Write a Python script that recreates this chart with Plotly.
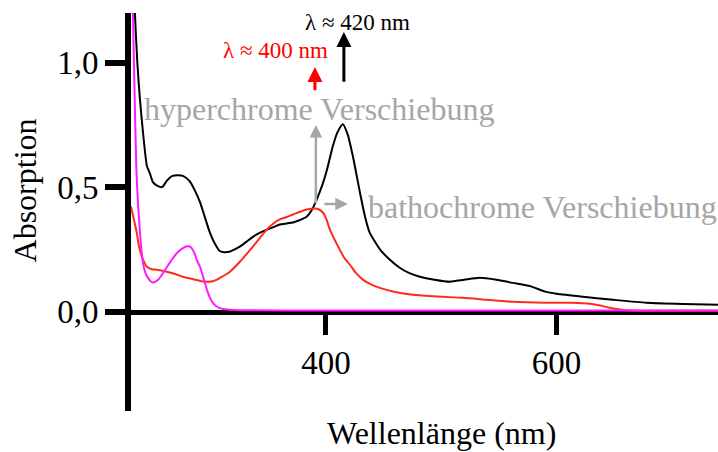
import plotly.graph_objects as go

# Wavelength (nm) and absorption values
black_x = [231, 232.5, 234.4, 236.5, 238.8, 241.4, 244.8, 247.4, 250, 254, 258, 262, 267, 272, 276, 282, 286, 291, 295,
           299.4, 304, 308, 312, 317, 321, 325.4, 331, 337, 343, 349, 355, 360, 366, 371.4, 377, 383.5, 388, 392, 397,
           401, 406, 410, 414.7, 419, 423.4, 429.5, 434, 438, 447, 455, 464, 472, 481.5, 494, 507.5, 520, 533.5, 548,
           562, 577, 590, 600, 625, 649, 678, 710, 740]
black_y = [1.8, 1.5, 1.2, 1.0, 0.85, 0.72, 0.585, 0.555, 0.52, 0.505, 0.5, 0.525, 0.545, 0.548, 0.545, 0.523, 0.49, 0.438,
           0.38, 0.317, 0.27, 0.243, 0.238, 0.241, 0.25, 0.261, 0.28, 0.301, 0.317, 0.329, 0.34, 0.35, 0.354, 0.358,
           0.367, 0.382, 0.41, 0.45, 0.51, 0.571, 0.664, 0.72, 0.753, 0.71, 0.624, 0.479, 0.38, 0.317, 0.249, 0.21,
           0.176, 0.155, 0.14, 0.128, 0.12, 0.128, 0.136, 0.128, 0.115, 0.102, 0.08, 0.071, 0.058, 0.047, 0.035, 0.03,
           0.027]

red_x = [231, 233.5, 236, 238, 240.5, 244.8, 249, 253.5, 262, 270, 276, 285, 292, 297, 302, 305.5, 310, 316.8, 325.4,
         331, 336.7, 343, 348.9, 354, 360, 366, 371.4, 377, 383.5, 390.5, 394, 397.4, 400.5, 403.5, 408, 412, 416,
         420.8, 426, 432, 440, 446.8, 460, 475.5, 497, 518.8, 540, 562, 590, 614, 629, 638, 646, 655, 663.5, 700, 740]
red_y = [0.422, 0.37, 0.317, 0.26, 0.22, 0.18, 0.17, 0.168, 0.16, 0.15, 0.14, 0.13, 0.122, 0.12, 0.122, 0.128, 0.14,
         0.16, 0.2, 0.23, 0.261, 0.297, 0.33, 0.352, 0.37, 0.38, 0.39, 0.4, 0.41, 0.414, 0.41, 0.398, 0.37, 0.329,
         0.285, 0.249, 0.215, 0.188, 0.155, 0.128, 0.107, 0.095, 0.078, 0.067, 0.06, 0.055, 0.047, 0.039, 0.035,
         0.035, 0.031, 0.024, 0.015, 0.008, 0.004, 0.003, 0.003]

magenta_x = [231, 232.7, 234, 235.6, 237, 238.8, 240, 241.4, 243.5, 245.7, 248, 250, 251.8, 255, 258.8, 263, 267.4,
             272, 276, 280, 282.5, 286, 288, 290.8, 293.5, 296.8, 299.5, 302, 306, 310.7, 320, 400, 740]
magenta_y = [1.8, 1.2, 0.9, 0.58, 0.44, 0.317, 0.25, 0.195, 0.155, 0.135, 0.122, 0.117, 0.119, 0.13, 0.155, 0.185,
             0.215, 0.24, 0.255, 0.262, 0.26, 0.235, 0.208, 0.18, 0.14, 0.088, 0.055, 0.035, 0.018, 0.01, 0.006,
             0.004, 0.004]

x_ticks = [400, 600]
y_ticks = [0.0, 0.5, 1.0]
y_tick_text = ["0,0", "0,5", "1,0"]

FONT = "Liberation Serif"

fig = go.Figure()
fig.add_trace(go.Scatter(x=black_x, y=black_y, mode="lines",
                         line=dict(color="#000000", width=2, shape="spline", smoothing=0.6)))
fig.add_trace(go.Scatter(x=red_x, y=red_y, mode="lines",
                         line=dict(color="#ff2a1a", width=2, shape="spline", smoothing=0.6)))
fig.add_trace(go.Scatter(x=magenta_x, y=magenta_y, mode="lines",
                         line=dict(color="#ff1aff", width=2, shape="spline", smoothing=0.6)))

fig.update_layout(
    width=718, height=452,
    margin=dict(l=131, r=0, t=13, b=41),
    paper_bgcolor="white", plot_bgcolor="white",
    showlegend=False,
    font=dict(family=FONT, color="black", size=33),
    xaxis=dict(range=[231, 740], tickvals=x_ticks, ticktext=[str(v) for v in x_ticks],
               showgrid=False, zeroline=False, showline=True, linecolor="black", linewidth=5,
               ticks="outside", ticklen=20, tickwidth=5, tickcolor="black",
               anchor="free", position=0.25, layer="below traces",
               tickfont=dict(family=FONT, size=33)),
    yaxis=dict(range=[-0.4, 1.2], tickvals=y_ticks, ticktext=y_tick_text,
               showgrid=False, zeroline=False, showline=True, linecolor="black", linewidth=6,
               ticks="outside", ticklen=20, tickwidth=6, tickcolor="black", layer="below traces",
               tickfont=dict(family=FONT, size=33)),
)

annotations = [
    dict(text="Wellenlänge (nm)", xref="x", yref="paper", x=500, y=-0.055, showarrow=False,
         xanchor="center", yanchor="middle", font=dict(family=FONT, size=32, color="black")),
    dict(text="Absorption", xref="paper", yref="paper", x=-0.18, y=0.555, showarrow=False, textangle=-90,
         xanchor="center", yanchor="middle", font=dict(family=FONT, size=32, color="black")),
    dict(text="hyperchrome Verschiebung", xref="x", yref="y", x=394, y=0.815, showarrow=False,
         xanchor="center", yanchor="middle", font=dict(family=FONT, size=32, color="#a6a6a6")),
    dict(text="bathochrome Verschiebung", xref="x", yref="y", x=435, y=0.42, showarrow=False,
         xanchor="left", yanchor="middle", font=dict(family=FONT, size=32, color="#a6a6a6")),
    dict(text="λ ≈ 400 nm", xref="x", yref="y", x=356.7, y=1.051, showarrow=False,
         xanchor="center", yanchor="middle", font=dict(family=FONT, size=23, color="#ff0000")),
    dict(text="λ ≈ 420 nm", xref="x", yref="y", x=427, y=1.16, showarrow=False,
         xanchor="center", yanchor="middle", font=dict(family=FONT, size=23, color="black")),
    # arrows
    dict(text="", x=415.6, y=1.124, ax=415.6, ay=0.918, xref="x", yref="y", axref="x", ayref="y",
         showarrow=True, arrowhead=2, arrowsize=1, arrowwidth=3, arrowcolor="black"),
    dict(text="", x=390.5, y=0.983, ax=390.5, ay=0.883, xref="x", yref="y", axref="x", ayref="y",
         showarrow=True, arrowhead=2, arrowsize=1, arrowwidth=3, arrowcolor="#ff0000"),
    dict(text="", x=391.3, y=0.75, ax=391.3, ay=0.428, xref="x", yref="y", axref="x", ayref="y",
         showarrow=True, arrowhead=2, arrowsize=1, arrowwidth=2.5, arrowcolor="#a6a6a6"),
    dict(text="", x=419, y=0.432, ax=397.4, ay=0.432, xref="x", yref="y", axref="x", ayref="y",
         showarrow=True, arrowhead=2, arrowsize=1, arrowwidth=2.5, arrowcolor="#a6a6a6"),
]
fig.update_layout(annotations=annotations)

fig.write_html("out.html")
